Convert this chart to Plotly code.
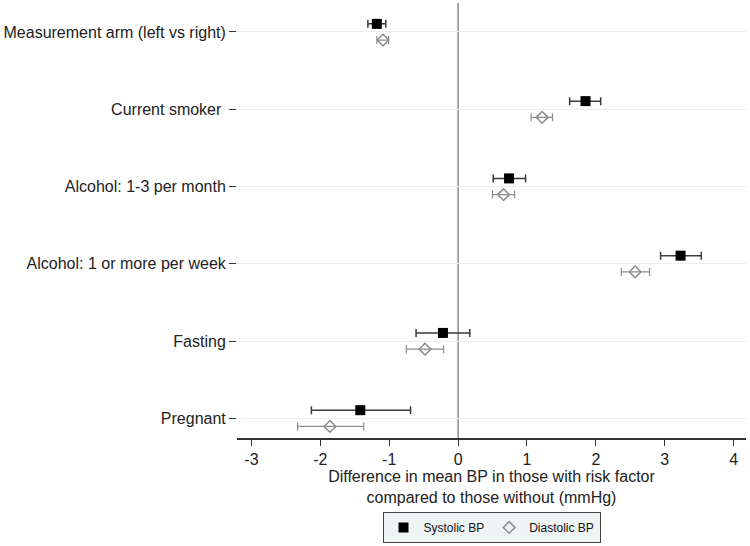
import plotly.graph_objects as go

categories = ["Measurement arm (left vs right)", "Current smoker ", "Alcohol: 1-3 per month",
              "Alcohol: 1 or more per week", "Fasting", "Pregnant"]
cat_pos = [6, 5, 4, 3, 2, 1]

sys_est = [-1.18, 1.85, 0.74, 3.23, -0.22, -1.42]
sys_lo = [-1.31, 1.62, 0.51, 2.94, -0.61, -2.13]
sys_hi = [-1.05, 2.07, 0.98, 3.53, 0.17, -0.69]

dia_est = [-1.09, 1.22, 0.66, 2.57, -0.48, -1.86]
dia_lo = [-1.18, 1.06, 0.50, 2.37, -0.75, -2.33]
dia_hi = [-1.01, 1.37, 0.82, 2.78, -0.21, -1.37]

x_ticks = [-3, -2, -1, 0, 1, 2, 3, 4]
x_tick_labels = ["-3", "-2", "-1", "0", "1", "2", "3", "4"]

offset = 0.105
sys_y = [p + offset for p in cat_pos]
dia_y = [p - offset for p in cat_pos]

fig = go.Figure()

fig.add_trace(go.Scatter(
    x=sys_est, y=sys_y, mode="markers", name="Systolic BP",
    marker=dict(symbol="square", size=10, color="black", line=dict(width=0)),
    error_x=dict(type="data", symmetric=False,
                 array=[h - e for h, e in zip(sys_hi, sys_est)],
                 arrayminus=[e - l for e, l in zip(sys_est, sys_lo)],
                 color="#3a3a3a", thickness=1.5, width=4),
))
fig.add_trace(go.Scatter(
    x=dia_est, y=dia_y, mode="markers", name="Diastolic BP",
    marker=dict(symbol="diamond-open", size=9, color="#8c8c8c", line=dict(width=1.5)),
    error_x=dict(type="data", symmetric=False,
                 array=[h - e for h, e in zip(dia_hi, dia_est)],
                 arrayminus=[e - l for e, l in zip(dia_est, dia_lo)],
                 color="#8c8c8c", thickness=1.2, width=4),
))

fig.add_shape(type="line", x0=0, x1=0, xref="x", y0=0, y1=1, yref="paper",
              line=dict(color="#8a8a8a", width=1.5), layer="below")

fig.update_layout(
    width=750, height=546,
    margin=dict(l=237, r=4, t=3, b=108),
    paper_bgcolor="white", plot_bgcolor="white",
    font=dict(family="Liberation Sans, Arial, sans-serif", size=16, color="#222"),
    showlegend=True,
    legend=dict(orientation="h", x=0.5, xanchor="center", y=-0.17, yanchor="top",
                bgcolor="#eef3f4", bordercolor="#444", borderwidth=1,
                font=dict(size=12, color="#111"), itemwidth=30, tracegroupgap=0),
    xaxis=dict(range=[-3.21, 4.18], tickvals=x_ticks, ticktext=x_tick_labels,
               ticks="outside", ticklen=6,
               tickcolor="#333", showline=True, linecolor="#333", linewidth=1.5,
               showgrid=False, zeroline=False, tickfont=dict(size=16),
               title=dict(text="Difference in mean BP in those with risk factor<br>compared to those without (mmHg)",
                          font=dict(size=16), standoff=0)),
    yaxis=dict(range=[0.745, 6.375], tickvals=cat_pos, ticktext=categories,
               ticks="outside", ticklen=7, tickcolor="#333", showline=False,
               showgrid=True, gridcolor="#e6f0f0", gridwidth=1, zeroline=False,
               tickfont=dict(size=16)),
)

fig.write_html("out.html", config={"displayModeBar": False},
               post_script="document.body.style.margin='0px';")
